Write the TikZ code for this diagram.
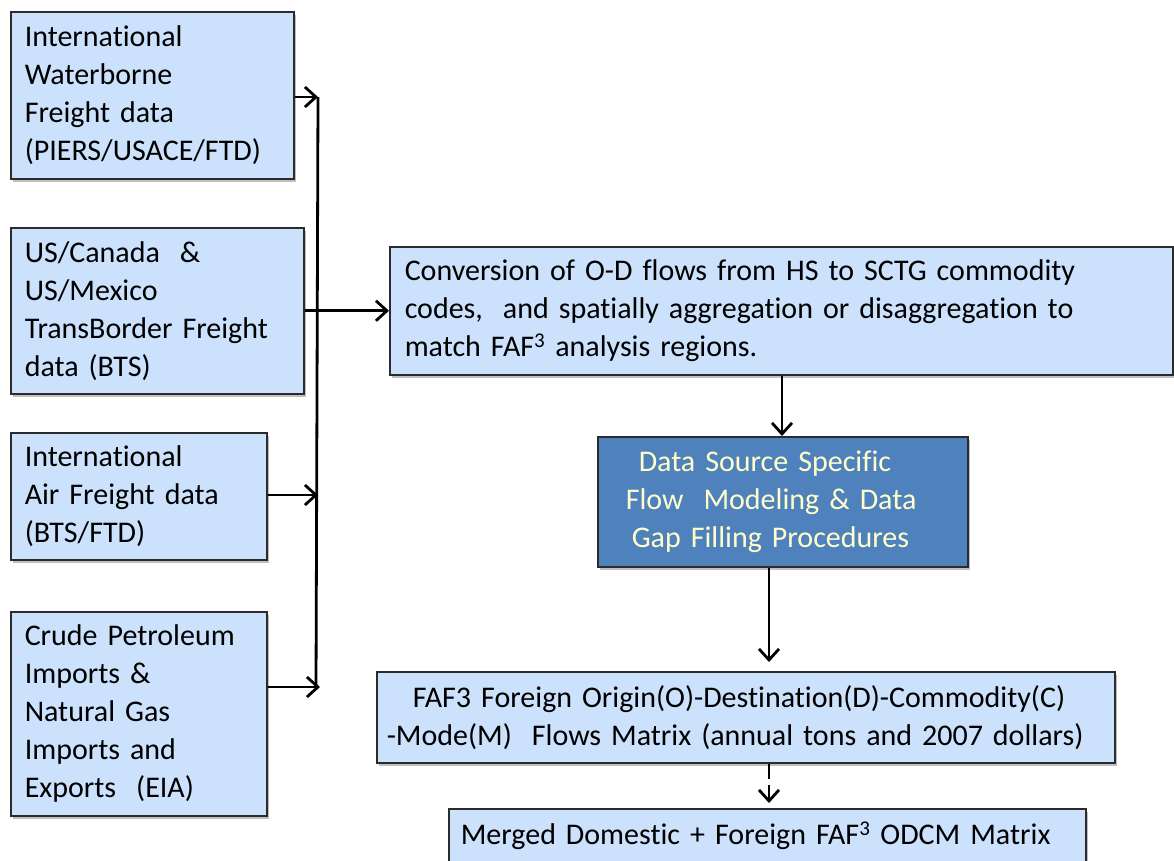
\documentclass[tikz,border=0pt]{standalone}
\usepackage{fontspec}
\setmainfont{Carlito}[Ligatures={NoCommon}]
\usetikzlibrary{arrows.meta,shadows}
\definecolor{boxfill}{HTML}{CCE1FB}
\definecolor{darkfill}{HTML}{4F81BD}
\definecolor{darktext}{HTML}{FFFFCC}
\definecolor{edge}{HTML}{2B2B2B}
\tikzset{
  box/.style={draw=edge, line width=1.5pt, fill=boxfill, rectangle, anchor=north west,
    align=left, inner ysep=0pt, font=\fontsize{30}{38}\selectfont,
    drop shadow={shadow xshift=2pt, shadow yshift=-3pt, opacity=0.25, fill=black}},
  darkbox/.style={box, fill=darkfill, text=darktext},
  conn/.style={line width=2.8pt, -{Straight Barb[length=11pt,width=20pt,line width=2.8pt]}},
  plain/.style={line width=2.8pt},
}
\begin{document}
\begin{tikzpicture}[x=1pt,y=-1pt]
\useasboundingbox (0,0) rectangle (1174,860);
\node[box, minimum width=283pt, minimum height=167pt, inner xsep=14pt, text width=255pt] (b1) at (10,11)
  {International\\Waterborne\\Freight data\\(PIERS/USACE/FTD)};
\node[box, minimum width=293pt, minimum height=166pt, inner xsep=14pt, text width=265pt] (b2) at (10,227)
  {US/Canada\ \ \&\\US/Mexico\\TransBorder Freight\\data (BTS)};
\node[box, minimum width=256pt, minimum height=127pt, inner xsep=14pt, text width=228pt] (b3) at (10,432)
  {International\\Air Freight data\\(BTS/FTD)};
\node[box, minimum width=256pt, minimum height=204pt, inner xsep=14pt, text width=228pt] (b4) at (10,611)
  {Crude Petroleum\\Imports \&\\Natural Gas\\Imports and\\Exports\ \ (EIA)};
\node[box, minimum width=783pt, minimum height=128pt, inner xsep=15pt, text width=753pt] (b5) at (389,246)
  {Conversion of O-D flows from HS to SCTG commodity\\codes,\ \ and spatially aggregation or disaggregation to\\match FAF\textsuperscript{3} analysis regions.};
\node[darkbox, minimum width=370pt, minimum height=130pt, inner xsep=10pt, text width=350pt] (dk) at (597,436)
  {\hspace*{31pt}Data Source Specific\\\hspace*{18pt}Flow\ \ Modeling \& Data\\\hspace*{24pt}Gap Filling Procedures};
\node[box, minimum width=738pt, minimum height=91pt, inner xsep=10pt, text width=718pt] (b6) at (376,671)
  {\hspace*{26pt}FAF3 Foreign Origin(O)-Destination(D)-Commodity(C)\\-Mode(M)\ \ Flows Matrix (annual tons and 2007 dollars)};
\node[box, minimum width=637pt, minimum height=54pt, inner xsep=12pt, text width=613pt] (b7) at (448,808)
  {Merged Domestic + Foreign FAF\textsuperscript{3} ODCM Matrix};
% collector line
\coordinate (v1) at (318,97);
\coordinate (v3) at (318,495);
\coordinate (v4) at (320,687);
\coordinate (vb) at (316,687);
\draw[plain] (v1) -- (vb);
\draw[conn] (b1.east |- v1) -- (v1);
\draw[conn] (b2.east) -- (b5.west);
\draw[conn] (b3.east |- v3) -- (v3);
\draw[conn] (b4.east |- v4) -- (v4);
% vertical flow
\coordinate (c5) at (782,0);
\draw[conn] (c5 |- b5.south) -- (c5 |- dk.north);
\coordinate (c6) at (769,0);
\draw[conn, shorten >=9pt] (c6 |- dk.south) -- (c6 |- b6.north);
\draw[conn, dash pattern=on 15pt off 6pt, shorten >=5pt] (c6 |- b6.south) -- (c6 |- b7.north);
\end{tikzpicture}
\end{document}
